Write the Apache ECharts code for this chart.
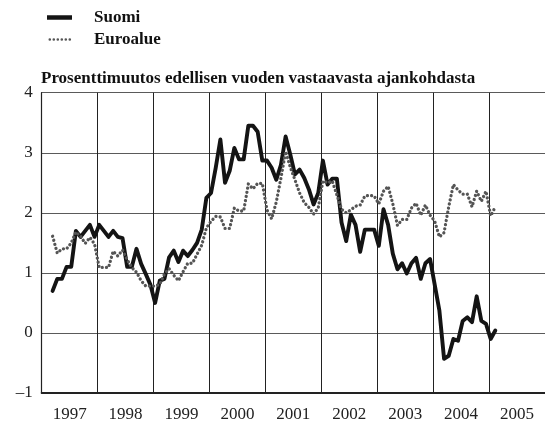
<!DOCTYPE html>
<html><head><meta charset="utf-8">
<script src="https://cdn.jsdelivr.net/npm/echarts@6/dist/echarts.min.js"></script>
<style>html,body{margin:0;padding:0;background:#fff}#c{width:545px;height:423px}</style>
</head><body><div id="c"></div>
<script>
// Data: monthly year-on-year % change, March 1997 – February 2005
const startYear = 1997;
const startMonth = 3; // March
const yearLabels = ['1997','1998','1999','2000','2001','2002','2003','2004','2005'];
const titleText = 'Prosenttimuutos edellisen vuoden vastaavasta ajankohdasta';
const seriesNames = ['Suomi', 'Euroalue'];

const suomi = [0.70,0.90,0.90,1.10,1.10,1.70,1.60,1.70,1.80,1.60,
1.80,1.70,1.60,1.70,1.60,1.58,1.10,1.10,1.40,1.15,
0.98,0.80,0.50,0.87,0.90,1.26,1.37,1.18,1.37,1.28,
1.38,1.50,1.72,2.25,2.33,2.75,3.22,2.50,2.70,3.08,
2.89,2.89,3.45,3.45,3.35,2.87,2.87,2.75,2.55,2.80,
3.27,2.97,2.64,2.72,2.58,2.39,2.14,2.33,2.87,2.47,
2.57,2.57,1.84,1.53,1.97,1.80,1.35,1.72,1.72,1.72,
1.45,2.06,1.80,1.32,1.06,1.16,0.99,1.16,1.25,0.90,
1.16,1.23,0.80,0.37,-0.43,-0.38,-0.10,-0.13,0.20,0.26,
0.18,0.61,0.20,0.15,-0.10,0.04];

const euroalue = [1.61,1.33,1.40,1.40,1.50,1.68,1.61,1.49,1.59,1.48,
1.09,1.09,1.09,1.36,1.28,1.38,1.22,1.09,1.01,0.87,
0.78,0.78,0.78,0.81,0.98,1.07,0.96,0.87,1.02,1.16,
1.16,1.31,1.46,1.75,1.86,1.94,1.93,1.74,1.74,2.08,
2.03,2.03,2.48,2.40,2.49,2.49,2.05,1.90,2.18,2.58,
3.02,2.76,2.55,2.33,2.17,2.09,1.98,2.08,2.53,2.50,
2.53,2.30,2.06,2.00,2.05,2.11,2.13,2.28,2.29,2.28,
2.15,2.36,2.44,2.15,1.79,1.89,1.89,2.08,2.16,1.96,
2.13,1.96,1.86,1.60,1.67,2.10,2.47,2.38,2.31,2.31,
2.10,2.36,2.19,2.36,1.95,2.10];

const yMin = -1, yMax = 4, yStep = 1;
const xMin = 1997, xMax = 2006;

// month index -> decimal year (point placed within its month)
function monthPos(i) {
  const m = startMonth - 1 + i;
  return startYear + (m + 0.34) / 12;
}
const toPairs = arr => arr.map((v, i) => [monthPos(i), v]);

const FONT = '"Liberation Serif", "Times New Roman", serif';
const dotIcon = 'path://M0,0M25,4M1.5,2a1.3,1.3 0 1,0 2.6,0a1.3,1.3 0 1,0 -2.6,0' +
  'M5.5,2a1.3,1.3 0 1,0 2.6,0a1.3,1.3 0 1,0 -2.6,0' +
  'M9.5,2a1.3,1.3 0 1,0 2.6,0a1.3,1.3 0 1,0 -2.6,0' +
  'M13.5,2a1.3,1.3 0 1,0 2.6,0a1.3,1.3 0 1,0 -2.6,0' +
  'M17.5,2a1.3,1.3 0 1,0 2.6,0a1.3,1.3 0 1,0 -2.6,0' +
  'M21.5,2a1.3,1.3 0 1,0 2.6,0a1.3,1.3 0 1,0 -2.6,0';

const chart = echarts.init(document.getElementById('c'), null, {renderer: 'canvas'});
chart.setOption({
  animation: false,
  backgroundColor: '#fff',
  textStyle: {fontFamily: FONT},
  title: {
    text: titleText, left: 41, top: 70,
    padding: 0,
    textStyle: {fontFamily: FONT, fontSize: 17, fontWeight: 'bold', color: '#111'}
  },
  legend: {
    orient: 'vertical', left: 47, top: 8, padding: 0,
    itemWidth: 25, itemHeight: 4.5, itemGap: 3,
    data: [
      {name: seriesNames[0], icon: 'rect', itemStyle: {color: '#141414'}},
      {name: seriesNames[1], icon: dotIcon, itemStyle: {color: '#555'}}
    ],
    textStyle: {fontFamily: FONT, fontSize: 17, fontWeight: 'bold', color: '#111',
      padding: [0,0,0,17], lineHeight: 19}
  },
  grid: {left: 41.7, top: 92.7, bottom: 29, right: -5.3, containLabel: false},
  xAxis: [{
    type: 'value', min: xMin, max: xMax, interval: 1,
    axisLine: {show: true, onZero: false, lineStyle: {color: '#222', width: 2}},
    axisTick: {show: false},
    axisLabel: {show: false},
    splitLine: {show: true, lineStyle: {color: '#222', width: 1}}
  }, {
    type: 'category', data: yearLabels, position: 'bottom', offset: 0,
    boundaryGap: true,
    axisLine: {show: false}, axisTick: {show: false}, splitLine: {show: false},
    axisLabel: {fontFamily: FONT, fontSize: 17, color: '#222', margin: 13}
  }],
  yAxis: {
    type: 'value', min: yMin, max: yMax, interval: yStep,
    axisLine: {show: true, lineStyle: {color: '#222', width: 1.2}},
    axisTick: {show: false},
    axisLabel: {fontFamily: FONT, fontSize: 17, color: '#222', margin: 9,
      formatter: v => v < 0 ? '\u2013' + Math.abs(v) : String(v)},
    splitLine: {show: true, lineStyle: {color: '#5a5a5a', width: 1.2}}
  },
  series: [{
    name: seriesNames[0], type: 'line', xAxisIndex: 0,
    data: toPairs(suomi), symbol: 'none', z: 3,
    lineStyle: {color: '#141414', width: 3.9, join: 'round', cap: 'round'},
    itemStyle: {color: '#141414'}
  }, {
    name: seriesNames[1], type: 'line', xAxisIndex: 0,
    data: toPairs(euroalue), symbol: 'none', z: 4,
    lineStyle: {color: '#555', width: 3.3, type: [0.01, 4.2], cap: 'round', join: 'round'},
    itemStyle: {color: '#555'}
  }]
});
</script></body></html>
